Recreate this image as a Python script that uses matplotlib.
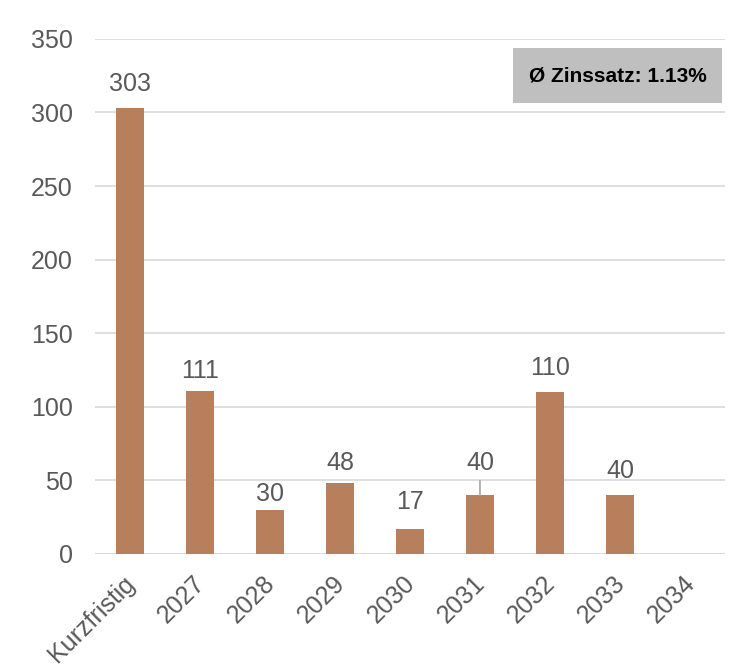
import matplotlib.pyplot as plt
from matplotlib.patches import Rectangle
from matplotlib.transforms import ScaledTranslation

# Fälligkeiten (Mio.)
categories = ['Kurzfristig', '2027', '2028', '2029', '2030', '2031', '2032', '2033', '2034']
values = [303, 111, 30, 48, 17, 40, 110, 40, 0]
# Abstand der Datenbeschriftung über dem Balken (Pixel), wie im Original gesetzt
label_gap_px = [24, 20, 15.5, 20, 27, 32, 24, 24, 0]
bar_color = '#B77F5C'
text_color = '#595959'

plt.rcParams['font.family'] = ['Liberation Sans', 'DejaVu Sans']

fig = plt.figure(figsize=(7.36, 6.71), dpi=100)
ax = fig.add_axes([0.129, 0.1744, 0.856, 0.7676])

x = range(len(categories))
ax.bar(x, values, width=0.4, color=bar_color, zorder=3)

ax.set_ylim(0, 350)
ax.set_xlim(-0.5, len(categories) - 0.5)
ax.set_yticks(range(0, 351, 50))
ax.yaxis.grid(True, color='#D9D9D9', linewidth=1.2, zorder=0)
for s in ax.spines.values():
    s.set_visible(False)
ax.axhline(0, color='#D9D9D9', linewidth=1.5, zorder=2)
ax.tick_params(length=0, labelsize=18, labelcolor=text_color)
ax.tick_params(axis='y', pad=16)
ax.set_xticks(list(x))
ax.set_xticklabels(categories, rotation=45, ha='right', va='top', rotation_mode='anchor')
ax.tick_params(axis='x', pad=8)
shift = ScaledTranslation(-7 / 100, -6 / 100, fig.dpi_scale_trans)
for lbl in ax.get_xticklabels():
    lbl.set_transform(lbl.get_transform() + shift)

# Datenbeschriftungen
for i, v in enumerate(values):
    if v == 0:
        continue
    gap = label_gap_px[i] * 72 / 100
    if categories[i] == '2031':
        ax.annotate(str(v), xy=(i, v), xytext=(0, gap), textcoords='offset points',
                    ha='center', va='center', fontsize=18, color=text_color,
                    arrowprops=dict(arrowstyle='-', color='#A6A6A6', lw=1.2,
                                    shrinkA=2, shrinkB=0))
    else:
        ax.annotate(str(v), xy=(i, v), xytext=(0, gap), textcoords='offset points',
                    ha='center', va='center', fontsize=18, color=text_color)

# Zinssatz-Box
fig.patches.append(Rectangle((513 / 736, 1 - 103 / 671), 209 / 736, 55 / 671,
                             transform=fig.transFigure, facecolor='#BFBFBF',
                             edgecolor='none', zorder=5))
fig.text(617.5 / 736, 1 - 75.5 / 671, 'Ø Zinssatz: 1.13%', ha='center', va='center',
         fontsize=15, fontweight='bold', color='black', zorder=6)

fig.savefig('out.png', dpi=100)
